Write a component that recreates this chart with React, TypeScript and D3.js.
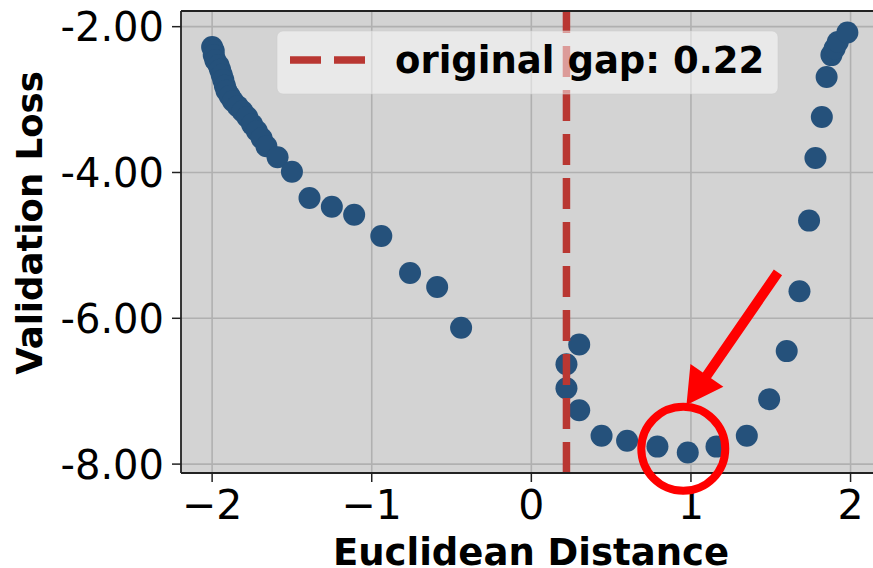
import React from "react";
import * as d3 from "d3";

const xValues: number[] = [
  -2.0, -1.99, -1.99, -1.98, -1.96, -1.95, -1.94, -1.93, -1.92, -1.91, -1.89,
  -1.87, -1.84, -1.81, -1.78, -1.75, -1.72, -1.69, -1.66, -1.59, -1.5,
  -1.39, -1.25, -1.11, -0.94, -0.76, -0.59, -0.44,
  0.22, 0.22, 0.3, 0.3, 0.44, 0.6, 0.79, 0.98, 1.16, 1.35, 1.49, 1.6, 1.68,
  1.74, 1.78, 1.82, 1.85, 1.88, 1.9, 1.92, 1.98,
];
const yValues: number[] = [
  -2.28, -2.33, -2.39, -2.46, -2.53, -2.59, -2.66, -2.73, -2.81, -2.88, -2.95,
  -3.02, -3.09, -3.16, -3.24, -3.34, -3.43, -3.53, -3.64, -3.79, -3.99,
  -4.35, -4.47, -4.58, -4.87, -5.38, -5.57, -6.13,
  -6.63, -6.96, -6.36, -7.26, -7.61, -7.68, -7.76, -7.84, -7.76, -7.61, -7.11,
  -6.45, -5.63, -4.66, -3.8, -3.24, -2.69, -2.39, -2.3, -2.21, -2.08,
];
const xTicks: number[] = [-2, -1, 0, 1, 2];
const yTicks: number[] = [-2, -4, -6, -8];
const originalGap = 0.22;
const legendLabel = "original gap: 0.22";
const xLabel = "Euclidean Distance";
const yLabel = "Validation Loss";
// annotation (data coordinates)
const circleCenter: [number, number] = [0.952, -7.79];
const arrowTail: [number, number] = [1.545, -5.37];
const arrowTip: [number, number] = [0.972, -7.19];

const W = 873;
const H = 568;
const left = 181;
const right = 882;
const top = 11;
const bottom = 473;

export default function App() {
  const x = d3.scaleLinear().domain([-2.195, 2.197]).range([left, right]);
  const y = d3.scaleLinear().domain([-8.122, -1.785]).range([bottom, top]);
  const font = "'DejaVu Sans', sans-serif";

  const pts = xValues.map((v, i) => [x(v), y(yValues[i])]);

  // arrow geometry
  const [tx0, ty0] = [x(arrowTail[0]), y(arrowTail[1])];
  const [tx1, ty1] = [x(arrowTip[0]), y(arrowTip[1])];
  const dx = tx1 - tx0;
  const dy = ty1 - ty0;
  const len = Math.hypot(dx, dy);
  const ux = dx / len;
  const uy = dy / len;
  const nx = -uy;
  const ny = ux;
  const headLen = 36;
  const headW = 20;
  const shaftW = 5;
  const bx = tx1 - ux * headLen;
  const by = ty1 - uy * headLen;
  const arrowPath = [
    [tx0 + nx * shaftW, ty0 + ny * shaftW],
    [bx + nx * shaftW, by + ny * shaftW],
    [bx + nx * headW, by + ny * headW],
    [tx1, ty1],
    [bx - nx * headW, by - ny * headW],
    [bx - nx * shaftW, by - ny * shaftW],
    [tx0 - nx * shaftW, ty0 - ny * shaftW],
  ];

  return (
    <svg
      width={W}
      height={H}
      style={{ position: "absolute", left: 0, top: 0, background: "#fff" }}
    >
      <defs>
        <clipPath id="plot">
          <rect x={left} y={top} width={right - left} height={bottom - top} />
        </clipPath>
      </defs>
      <rect x={left} y={top} width={right - left} height={bottom - top} fill="#d3d3d3" />
      <g clipPath="url(#plot)">
        {xTicks.map((t) => (
          <line key={"gx" + t} x1={x(t)} x2={x(t)} y1={top} y2={bottom} stroke="#b0b0b0" strokeWidth={1.6} />
        ))}
        {yTicks.map((t) => (
          <line key={"gy" + t} x1={left} x2={right} y1={y(t)} y2={y(t)} stroke="#b0b0b0" strokeWidth={1.6} />
        ))}
      </g>
      {pts.map(([px, py], i) => (
        <circle key={i} cx={px} cy={py} r={11} fill="#25517b" />
      ))}
      <line
        x1={x(originalGap)}
        x2={x(originalGap)}
        y1={bottom}
        y2={top}
        stroke="#b93732"
        strokeWidth={7.5}
        strokeDasharray="31,13"
      />
      {/* legend */}
      <rect x={277} y={31} width={501} height={63} rx={6} fill="#ffffff" fillOpacity={0.5} stroke="#cccccc" strokeOpacity={0.5} />
      <line x1={290} x2={365} y1={60} y2={60} stroke="#b93732" strokeWidth={7.5} strokeDasharray="31,13" />
      <text x={395} y={73} fontFamily={font} fontWeight="bold" fontSize={37} fill="#000">
        {legendLabel}
      </text>
      {/* spines */}
      <line x1={left} x2={left} y1={top} y2={bottom} stroke="#222" strokeWidth={1.8} />
      <line x1={left} x2={right} y1={bottom} y2={bottom} stroke="#222" strokeWidth={1.8} />
      <line x1={left} x2={right} y1={top} y2={top} stroke="#222" strokeWidth={1.8} />
      {/* ticks */}
      {xTicks.map((t) => (
        <g key={"xt" + t}>
          <line x1={x(t)} x2={x(t)} y1={bottom} y2={bottom + 9} stroke="#222" strokeWidth={1.5} />
          <text x={x(t)} y={518.5} textAnchor="middle" fontFamily={font} fontSize={41} fill="#000">
            {t < 0 ? "\u2212" + Math.abs(t) : String(t)}
          </text>
        </g>
      ))}
      {yTicks.map((t) => (
        <g key={"yt" + t}>
          <line x1={left - 9} x2={left} y1={y(t)} y2={y(t)} stroke="#222" strokeWidth={1.5} />
          <text x={164} y={y(t)} dy="0.365em" textAnchor="end" fontFamily={font} fontSize={40} fill="#000">
            {t.toFixed(2)}
          </text>
        </g>
      ))}
      <text x={531} y={565} textAnchor="middle" fontFamily={font} fontWeight="bold" fontSize={37} fill="#000">
        {xLabel}
      </text>
      <text
        transform={`translate(42,223) rotate(-90)`}
        textAnchor="middle"
        fontFamily={font}
        fontWeight="bold"
        fontSize={35.5}
        fill="#000"
      >
        {yLabel}
      </text>
      {/* annotation */}
      <circle cx={x(circleCenter[0])} cy={y(circleCenter[1])} r={42} fill="none" stroke="#ff0000" strokeWidth={8} />
      <path d={d3.line()(arrowPath as [number, number][]) + "Z"} fill="#ff0000" />
    </svg>
  );
}
